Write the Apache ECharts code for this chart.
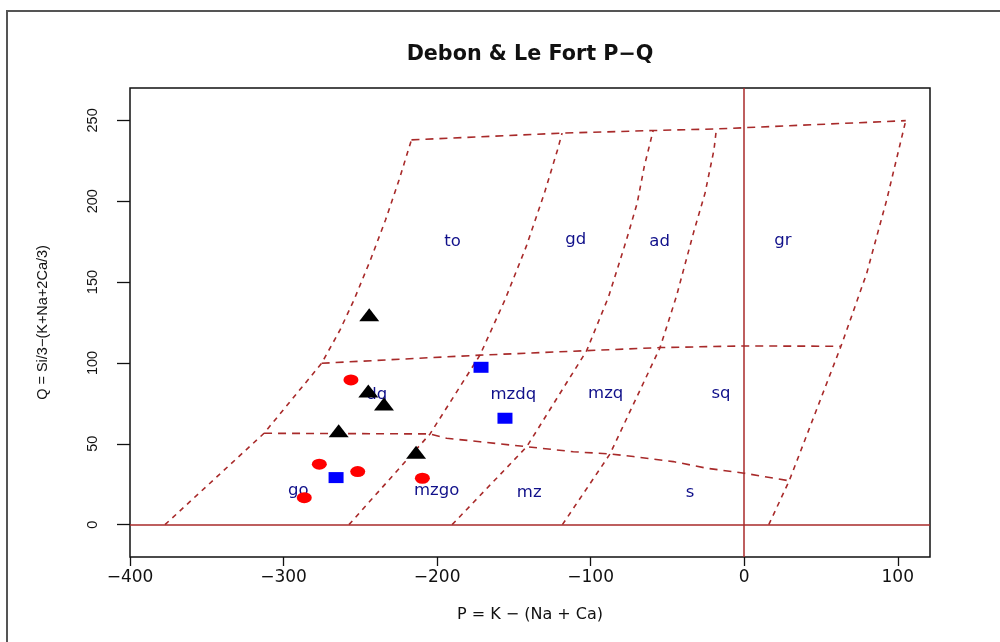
<!DOCTYPE html>
<html>
<head>
<meta charset="utf-8">
<script src="https://cdn.jsdelivr.net/npm/echarts@6/dist/echarts.min.js"></script>
<style>
html,body{margin:0;padding:0;background:#ffffff;}
#chart{width:1000px;height:642px;}
</style>
</head>
<body>
<div id="chart"></div>
<script>
// ---- axis ticks ----
const xTicks = [-400, -300, -200, -100, 0, 100];
const yTicks = [0, 50, 100, 150, 200, 250];

// ---- samples (P, Q) ----
const redCircles = [[-256.1, 89.5], [-276.7, 37.4], [-251.7, 32.8], [-286.5, 16.7], [-209.6, 28.7]];
const blackTriangles = [[-244.2, 128.6], [-244.8, 81.4], [-234.6, 73.3], [-264.1, 56.8], [-213.7, 43.5]];
const blueSquares = [[-171.4, 97.3], [-155.8, 65.8], [-265.8, 29.1]];

// ---- field names ----
const fieldNames = ['to', 'gd', 'ad', 'gr', 'dq', 'mzdq', 'mzq', 'sq', 'go', 'mzgo', 'mz', 's'];
const fieldX = [-190, -109.7, -55.1, 25.2, -239.3, -150.4, -90.2, -15.1, -290.4, -200.3, -140, -35.3];
const fieldY = [175, 176.1, 175, 175.6, 80.2, 80.2, 80.8, 80.8, 20.8, 20.8, 20, 20];

// ---- field boundaries (P, Q) ----
const lineTop = [[-216.7, 237.9], [-118.6, 242.1], [-59.3, 243.7], [-18.1, 244.7], [105.2, 249.8]];
const lineLeft = [[-377.2, 0], [-312.7, 56.5], [-275.2, 99.8], [-263.2, 120.4], [-254.1, 139], [-243.4, 163.7], [-233.6, 188.4], [-224.8, 213.1], [-216.7, 237.9]];
const lineUpper = [[-275.2, 99.8], [-224.2, 102.3], [-172.1, 104.8], [-102.6, 107.6], [-54.8, 109.5], [0, 110.5], [63, 110.3]];
const lineLower = [[-312.7, 56.5], [-204.6, 56.1], [-193.8, 53.4], [-172.1, 51.3], [-152.6, 49.3], [-141.6, 48.2], [-111.3, 45.1], [-87.4, 43.7], [-72.2, 42.1], [-46.2, 39], [-24.4, 34.9], [0, 31.8], [29.3, 27.1]];
const lineP1 = [[-257.4, 0], [-204.6, 56.1], [-172.1, 104.8], [-155.8, 139], [-142, 171.9], [-130.1, 205], [-121.6, 231.7], [-118.6, 242.1]];
const lineP2 = [[-190.2, 0], [-141.6, 48.2], [-102.6, 107.6], [-88.3, 141], [-76.7, 176], [-69.7, 198.8], [-65.1, 221.4], [-59.3, 243.7]];
const lineP3 = [[-118.4, 0], [-87.4, 43.7], [-54.8, 109.5], [-44.2, 141], [-32.5, 182.3], [-25.5, 205], [-19.7, 231.7], [-18.1, 244.7]];
const lineRight = [[16, 0], [29.3, 27.1], [63, 110.3], [66.8, 120.4], [79.8, 155.5], [92.8, 200.8], [105.2, 249.8]];

const BRICK = '#a82a2a';
const minusFmt = v => (v < 0 ? '\u2212' + Math.abs(v) : String(v));

function boundary(data, dash) {
  return {
    type: 'line', data: data, showSymbol: false, symbol: 'none', silent: true, z: 1,
    lineStyle: { color: BRICK, width: 1.6, type: dash, opacity: 1 }
  };
}

const chart = echarts.init(document.getElementById('chart'), null, { renderer: 'canvas' });
chart.setOption({
  animation: false,
  backgroundColor: '#ffffff',
  title: {
    text: 'Debon & Le Fort P\u2212Q',
    left: 530, top: 44, padding: 0, textAlign: 'center',
    textStyle: { fontFamily: 'DejaVu Sans', fontWeight: 'bold', fontSize: 20.7, color: '#111' }
  },
  graphic: [{
    type: 'rect', silent: true, z: -1,
    shape: { x: 7, y: 11, width: 1020, height: 700 },
    style: { fill: 'none', stroke: '#555', lineWidth: 2 }
  }],
  grid: {
    left: 130, right: 70, top: 88, bottom: 85,
    show: true, borderColor: '#111', borderWidth: 1.5, backgroundColor: 'transparent',
    containLabel: false, outerBoundsMode: 'none'
  },
  xAxis: {
    type: 'value', min: -400, max: 121,
    splitLine: { show: false },
    axisLine: { show: false, onZero: false },
    axisTick: { show: true, length: 9, customValues: xTicks, lineStyle: { color: '#111', width: 1.3 } },
    axisLabel: { customValues: xTicks, formatter: minusFmt, fontFamily: 'DejaVu Sans', fontSize: 17, color: '#111', margin: 12 },
    name: 'P = K \u2212 (Na + Ca)', nameLocation: 'middle', nameGap: 50,
    nameTextStyle: { fontFamily: 'DejaVu Sans', fontSize: 16, color: '#111' }
  },
  yAxis: {
    type: 'value', min: -20, max: 270,
    splitLine: { show: false },
    axisLine: { show: false, onZero: false },
    axisTick: { show: true, length: 13, customValues: yTicks, lineStyle: { color: '#111', width: 1.3 } },
    axisLabel: { customValues: yTicks, rotate: 90, fontFamily: 'Liberation Sans', fontSize: 14.5, color: '#111', margin: 30 },
    name: 'Q = Si/3\u2212(K+Na+2Ca/3)', nameLocation: 'middle', nameGap: 80, nameRotate: 90,
    nameTextStyle: { fontFamily: 'Liberation Sans', fontSize: 14.5, color: '#111' }
  },
  series: [
    Object.assign(boundary(lineTop, [8, 6]), {
      markLine: {
        silent: true, symbol: ['none', 'none'], label: { show: false },
        lineStyle: { type: 'solid', color: BRICK, width: 1.5, opacity: 1 },
        data: [{ xAxis: 0 }, { yAxis: 0 }]
      }
    }),
    boundary(lineUpper, [8, 6]),
    boundary(lineLower, [8, 6]),
    boundary(lineLeft, [5, 5]),
    boundary(lineP1, [5, 5]),
    boundary(lineP2, [5, 5]),
    boundary(lineP3, [5, 5]),
    boundary(lineRight, [5, 5]),
    {
      type: 'scatter', silent: true, z: 1, symbolSize: 0,
      itemStyle: { opacity: 1 },
      data: fieldNames.map((n, i) => ({ name: n, value: [fieldX[i], fieldY[i]] })),
      label: { show: true, position: 'inside', formatter: '{b}', color: '#10108a', fontFamily: 'DejaVu Sans', fontSize: 16.5 }
    },
    {
      type: 'scatter', z: 3, symbol: 'circle', symbolSize: [15, 11],
      itemStyle: { color: '#ff0000', opacity: 1 }, data: redCircles
    },
    {
      type: 'scatter', z: 3, symbol: 'rect', symbolSize: [15, 11],
      itemStyle: { color: '#0000ff', opacity: 1 }, data: blueSquares
    },
    {
      type: 'scatter', z: 3, symbol: 'triangle', symbolSize: [20, 13], symbolOffset: [0, -2],
      itemStyle: { color: '#000000', opacity: 1 }, data: blackTriangles
    }
  ]
});
</script>
</body>
</html>
